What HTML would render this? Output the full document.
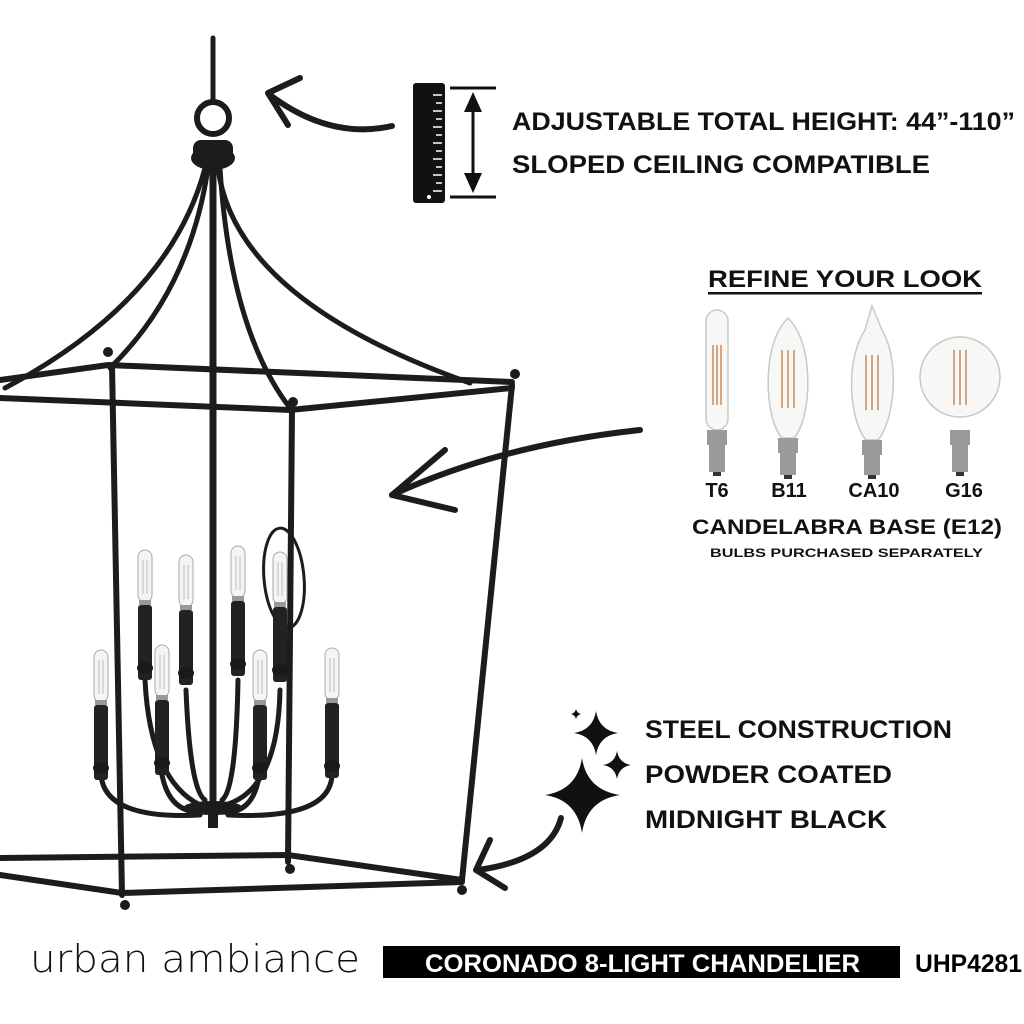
<!DOCTYPE html>
<html><head><meta charset="utf-8"><style>
html,body{margin:0;padding:0;background:#fff;}
svg{display:block;}
.t{font-family:"Liberation Sans",sans-serif;font-weight:bold;fill:#111;}
</style></head><body>
<svg width="1024" height="1024" viewBox="0 0 1024 1024" xmlns="http://www.w3.org/2000/svg">
<defs>
<g id="cb"><rect x="-7" y="0" width="14" height="52" rx="7" fill="#f4f4f2" stroke="#aaa" stroke-width="1"/><line x1="-2" y1="10" x2="-2" y2="44" stroke="#bbb"/><line x1="2" y1="10" x2="2" y2="44" stroke="#bbb"/><rect x="-6" y="50" width="12" height="5" fill="#999"/><rect x="-7" y="55" width="14" height="75" rx="3" fill="#222"/><ellipse cx="0" cy="118" rx="8" ry="6" fill="#1a1a1a"/></g>
</defs>
<g fill="none" stroke="#1c1c1c" stroke-linecap="round">
<!-- chain & ring -->
<line x1="213" y1="38" x2="213" y2="100" stroke-width="5"/>
<circle cx="213" cy="118" r="16" stroke-width="6"/>
<!-- arms -->
<path d="M205 168 Q170 300 5 388" stroke-width="5"/>
<path d="M208 168 Q190 290 110 368" stroke-width="5"/>
<path d="M218 168 Q235 300 470 383" stroke-width="5"/>
<path d="M220 168 Q230 330 290 408" stroke-width="5"/>
<line x1="213" y1="165" x2="213" y2="800" stroke-width="7"/>
<!-- top frame -->
<path d="M0 380 L108 365 L512 382" stroke-width="6"/>
<path d="M0 398 L290 410 L512 388" stroke-width="6"/>
<!-- posts -->
<line x1="112" y1="365" x2="122" y2="895" stroke-width="6"/>
<line x1="292" y1="410" x2="288" y2="862" stroke-width="6"/>
<line x1="512" y1="385" x2="462" y2="880" stroke-width="6"/>
<!-- bottom frame -->
<path d="M0 858 L288 855 L462 880" stroke-width="6"/>
<path d="M0 875 L122 893 L462 882" stroke-width="6"/>
<!-- candle arms -->
<path d="M145 680 Q150 780 200 805" stroke-width="5"/>
<path d="M186 690 Q190 790 205 800" stroke-width="5"/>
<path d="M238 680 Q236 790 222 800" stroke-width="5"/>
<path d="M280 690 Q278 790 225 805" stroke-width="5"/>
<path d="M101 775 Q105 820 200 815" stroke-width="5"/>
<path d="M162 775 Q170 815 205 812" stroke-width="5"/>
<path d="M260 770 Q255 815 222 812" stroke-width="5"/>
<path d="M332 775 Q330 820 228 815" stroke-width="5"/>
<!-- circle highlight -->
<ellipse cx="284" cy="578" rx="20" ry="50" stroke-width="3" transform="rotate(-5 284 578)"/>
<!-- arrows -->
<path d="M392 126 Q330 140 270 95" stroke-width="6"/>
<path d="M300 78 L268 93 L288 125" stroke-width="6" stroke-linejoin="round"/>
<path d="M640 430 Q500 445 392 495" stroke-width="6"/>
<path d="M445 450 L392 495 L455 510" stroke-width="6" stroke-linejoin="round"/>
<path d="M561 818 Q550 860 478 870" stroke-width="6"/>
<path d="M490 840 L476 870 L505 888" stroke-width="6" stroke-linejoin="round"/>
</g>
<!-- cap, hub, finials -->
<ellipse cx="213" cy="158" rx="22" ry="12" fill="#1c1c1c"/>
<rect x="193" y="140" width="40" height="20" rx="8" fill="#1c1c1c"/>
<ellipse cx="213" cy="808" rx="30" ry="7" fill="#1c1c1c"/>
<rect x="208" y="808" width="10" height="20" fill="#1c1c1c"/>
<g fill="#1c1c1c"><circle cx="108" cy="352" r="5"/><circle cx="515" cy="374" r="5"/><circle cx="293" cy="402" r="5"/><circle cx="125" cy="905" r="5"/><circle cx="462" cy="890" r="5"/><circle cx="290" cy="869" r="5"/></g>
<!-- candles -->
<use href="#cb" x="145" y="550"/><use href="#cb" x="186" y="555"/><use href="#cb" x="238" y="546"/><use href="#cb" x="280" y="552"/>
<use href="#cb" x="101" y="650"/><use href="#cb" x="162" y="645"/><use href="#cb" x="260" y="650"/><use href="#cb" x="332" y="648"/>
<!-- ruler icon -->
<rect x="413" y="83" width="32" height="120" rx="3" fill="#111"/>
<g stroke="#fff" stroke-width="1.5"><line x1="433" y1="95" x2="442" y2="95"/><line x1="436" y1="103" x2="442" y2="103"/><line x1="433" y1="111" x2="442" y2="111"/><line x1="436" y1="119" x2="442" y2="119"/><line x1="433" y1="127" x2="442" y2="127"/><line x1="436" y1="135" x2="442" y2="135"/><line x1="433" y1="143" x2="442" y2="143"/><line x1="436" y1="151" x2="442" y2="151"/><line x1="433" y1="159" x2="442" y2="159"/><line x1="436" y1="167" x2="442" y2="167"/><line x1="433" y1="175" x2="442" y2="175"/><line x1="436" y1="183" x2="442" y2="183"/><line x1="433" y1="191" x2="442" y2="191"/></g>
<circle cx="429" cy="197" r="2" fill="#fff"/>
<g stroke="#111" stroke-width="3"><line x1="450" y1="88" x2="496" y2="88"/><line x1="450" y1="197" x2="496" y2="197"/><line x1="473" y1="100" x2="473" y2="185"/></g>
<path d="M473 92 L464 112 L482 112Z M473 193 L464 173 L482 173Z" fill="#111"/>
<!-- texts -->
<text class="t" x="512" y="130" font-size="25" textLength="503" lengthAdjust="spacingAndGlyphs">ADJUSTABLE TOTAL HEIGHT: 44”-110”</text>
<text class="t" x="512" y="173" font-size="25" textLength="418" lengthAdjust="spacingAndGlyphs">SLOPED CEILING COMPATIBLE</text>
<text class="t" x="708" y="287" font-size="24" textLength="274" lengthAdjust="spacingAndGlyphs">REFINE YOUR LOOK</text>
<rect x="708" y="292" width="274" height="2.5" fill="#111"/>
<!-- bulbs -->
<g stroke="#c8c8c8" stroke-width="1.5" fill="#f7f7f5">
<rect x="706" y="310" width="22" height="120" rx="11"/>
<path d="M788 318 C760 345 765 420 782 438 L794 438 C811 420 816 345 788 318Z"/>
<path d="M872 306 Q880 325 882 330 C900 360 895 420 878 440 L866 440 C849 420 845 360 865 330Z"/>
<circle cx="960" cy="377" r="40"/>
</g>
<g stroke="#c98a5a" stroke-width="1.5">
<line x1="713" y1="345" x2="713" y2="405"/><line x1="717" y1="345" x2="717" y2="405"/><line x1="721" y1="345" x2="721" y2="405"/>
<line x1="782" y1="350" x2="782" y2="408"/><line x1="788" y1="350" x2="788" y2="408"/><line x1="794" y1="350" x2="794" y2="408"/>
<line x1="866" y1="355" x2="866" y2="410"/><line x1="872" y1="355" x2="872" y2="410"/><line x1="878" y1="355" x2="878" y2="410"/>
<line x1="954" y1="350" x2="954" y2="405"/><line x1="960" y1="350" x2="960" y2="405"/><line x1="966" y1="350" x2="966" y2="405"/>
</g>
<g fill="#9a9a9a"><rect x="707" y="430" width="20" height="15"/><rect x="709" y="445" width="16" height="27"/><rect x="778" y="438" width="20" height="15"/><rect x="780" y="453" width="16" height="22"/><rect x="862" y="440" width="20" height="15"/><rect x="864" y="455" width="16" height="20"/><rect x="950" y="430" width="20" height="15"/><rect x="952" y="445" width="16" height="27"/></g>
<g fill="#333"><rect x="713" y="472" width="8" height="4"/><rect x="784" y="475" width="8" height="4"/><rect x="868" y="475" width="8" height="4"/><rect x="956" y="472" width="8" height="4"/></g>
<g class="t" font-size="20" text-anchor="middle"><text x="717" y="497">T6</text><text x="789" y="497">B11</text><text x="874" y="497">CA10</text><text x="964" y="497">G16</text></g>
<text class="t" x="692" y="534" font-size="21" textLength="310" lengthAdjust="spacingAndGlyphs">CANDELABRA BASE (E12)</text>
<text class="t" x="710" y="557" font-size="12" textLength="273" lengthAdjust="spacingAndGlyphs">BULBS PURCHASED SEPARATELY</text>
<!-- sparkles -->
<g fill="#111">
<path d="M576 709 Q577 713 581 714 Q577 715 576 719 Q575 715 571 714 Q575 713 576 709Z"/>
<path d="M596 711 Q599 730 618 733 Q599 736 596 755 Q593 736 574 733 Q593 730 596 711Z"/>
<path d="M617 751 Q619 763 631 765 Q619 767 617 779 Q615 767 603 765 Q615 763 617 751Z"/>
<path d="M582 758 Q587 790 620 795 Q587 800 582 833 Q577 800 545 795 Q577 790 582 758Z"/>
</g>
<text class="t" x="645" y="738" font-size="25" textLength="307" lengthAdjust="spacingAndGlyphs">STEEL CONSTRUCTION</text>
<text class="t" x="645" y="783" font-size="25" textLength="247" lengthAdjust="spacingAndGlyphs">POWDER COATED</text>
<text class="t" x="645" y="828" font-size="25" textLength="242" lengthAdjust="spacingAndGlyphs">MIDNIGHT BLACK</text>
<!-- bottom bar -->
<text x="30" y="972" font-family="'DejaVu Sans','Liberation Sans',sans-serif" font-size="38" font-weight="200" fill="#111" textLength="330" lengthAdjust="spacingAndGlyphs">urban ambiance</text>
<rect x="383" y="946" width="517" height="32" fill="#000"/>
<text x="425" y="972" font-family="'Liberation Sans',sans-serif" font-weight="bold" font-size="25" fill="#fff" textLength="435" lengthAdjust="spacingAndGlyphs">CORONADO 8-LIGHT CHANDELIER</text>
<text x="915" y="972" font-family="'Liberation Sans',sans-serif" font-weight="bold" font-size="25" fill="#000" textLength="107" lengthAdjust="spacingAndGlyphs">UHP4281</text>
</svg>
</body></html>
